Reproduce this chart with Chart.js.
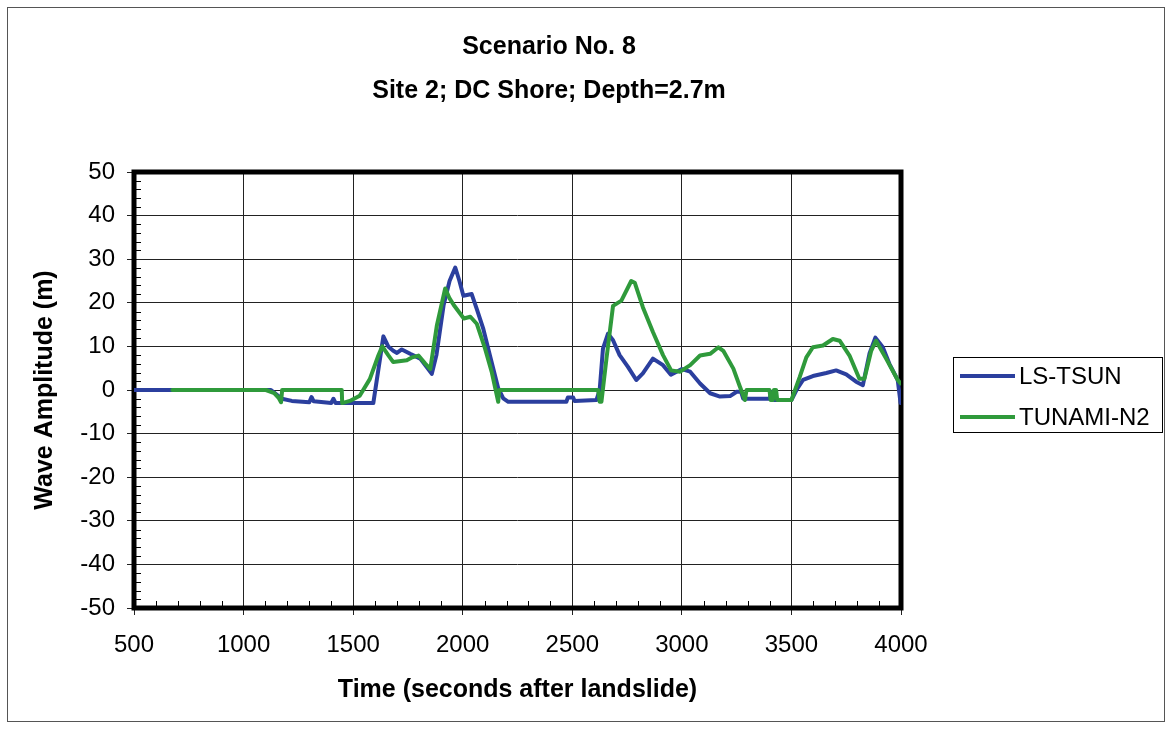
<!DOCTYPE html>
<html>
<head>
<meta charset="utf-8">
<title>Scenario No. 8</title>
<script src="https://cdn.jsdelivr.net/npm/chart.js@4.4.0/dist/chart.umd.min.js"></script>
<style>
  body { margin: 0; background: #fff; }
  #wrap { width: 1166px; height: 734px; }
</style>
</head>
<body>
<div id="wrap"><canvas id="waveChart" width="1166" height="734"></canvas></div>
<script>
const FONT = "'Liberation Sans', Arial, sans-serif";

// time axis ticks (seconds) and amplitude ticks (m)
const timeTicks = [500, 1000, 1500, 2000, 2500, 3000, 3500, 4000];
const ampTicks = [-50, -40, -30, -20, -10, 0, 10, 20, 30, 40, 50];

// LS-TSUN
const lsTime = [500, 1125, 1155, 1175, 1220, 1300, 1310, 1320, 1400, 1410, 1420, 1592,
  1638, 1660, 1683, 1700, 1722, 1760, 1806, 1840, 1859, 1880, 1913, 1940, 1966, 1985,
  2003, 2041, 2064, 2094, 2124, 2162, 2185, 2208, 2473, 2480, 2504, 2510, 2610, 2625,
  2640, 2663, 2686, 2716, 2754, 2792, 2822, 2868, 2914, 2950, 3000, 3038, 3083, 3129,
  3174, 3220, 3250, 3270, 3280, 3400, 3410, 3420, 3500, 3523, 3553, 3598, 3659, 3704,
  3750, 3795, 3826, 3856, 3883, 3917, 3947, 3985, 3998];
const lsAmp = [0, 0, -1.2, -2, -2.5, -2.8, -1.6, -2.6, -3, -2, -3, -3,
  12.3, 10, 9, 8.5, 9.3, 8.3, 7.2, 5, 3.7, 8, 19.5, 25, 28.1, 25,
  21.6, 22, 18.6, 14, 8, 0.4, -1.9, -2.7, -2.7, -1.7, -1.7, -2.5, -2.3, 0,
  9.5, 12.9, 11.4, 8, 5.3, 2.3, 3.8, 7.2, 5.7, 3.5, 4.8, 4.2, 1.5, -0.75,
  -1.5, -1.4, -0.4, -0.4, -2, -2, -0.5, -2.3, -2.3, 0, 2.3, 3.2, 3.9, 4.5,
  3.6, 1.9, 1.1, 8.3, 12, 9.8, 6, 2.3, -3];

// TUNAMI-N2
const tnTime = [675, 1102, 1140, 1160, 1171, 1176, 1448, 1450, 1485, 1530, 1576, 1615,
  1633, 1660, 1683, 1745, 1770, 1798, 1830, 1852, 1882, 1920, 1940, 1959, 2005, 2035,
  2064, 2102, 2132, 2162, 2167, 2618, 2625, 2633, 2656, 2686, 2724, 2769, 2785, 2822,
  2868, 2914, 2951, 2992, 3038, 3083, 3129, 3167, 3189, 3235, 3265, 3288, 3295, 3400,
  3405, 3415, 3420, 3430, 3435, 3500, 3538, 3568, 3598, 3644, 3689, 3720, 3765, 3810,
  3833, 3864, 3886, 3932, 3985, 3998];
const tnAmp = [0, 0, -0.7, -1.8, -2.8, 0, 0, -3, -2.5, -1.3, 2.5, 7.9,
  10, 8, 6.4, 6.8, 7.5, 7.9, 6, 4.8, 14.8, 23.3, 21, 19.5, 16.4, 16.8,
  15.2, 9.5, 4.2, -2.7, 0, 0, -2.7, -2.7, 7.2, 19.3, 20.5, 25, 24.6, 19,
  13.3, 8, 4.5, 4.2, 5.7, 7.9, 8.3, 9.8, 9, 4.9, 0.75, -2.3, 0, 0,
  -2.3, -2.3, 0, 0, -2.3, -2.3, 3, 7.5, 9.8, 10.2, 11.7, 11.3, 7.9, 2.6,
  2.6, 9, 11.3, 7.2, 2.3, 1.5];

const seriesNames = ['LS-TSUN', 'TUNAMI-N2'];
const seriesColors = ['#2b3f9e', '#2f9a3b'];

function pairs(xs, ys) {
  return xs.map((x, i) => ({ x: x, y: ys[i] }));
}

// titles, thick plot frame, inner minor ticks, legend box, outer border
const decorations = {
  id: 'decorations',
  beforeDatasetsDraw(chart) {
    const { ctx, chartArea: a, scales } = chart;
    ctx.save();
    ctx.strokeStyle = '#000';
    ctx.lineWidth = 1;
    ctx.beginPath();
    for (let t = 600; t < 4000; t += 100) {
      if (t % 500 === 0) continue;
      const px = Math.round(scales.x.getPixelForValue(t)) + 0.5;
      ctx.moveTo(px, a.bottom - 2);
      ctx.lineTo(px, a.bottom - 7);
    }
    for (let v = -48; v < 50; v += 2) {
      if (v % 10 === 0) continue;
      const py = Math.round(scales.y.getPixelForValue(v)) + 0.5;
      ctx.moveTo(a.left + 2, py);
      ctx.lineTo(a.left + 7, py);
    }
    ctx.stroke();
    ctx.lineWidth = 5;
    ctx.strokeRect(a.left, a.top, a.right - a.left, a.bottom - a.top);
    ctx.restore();
  },
  afterDraw(chart) {
    const { ctx } = chart;
    ctx.save();
    ctx.strokeStyle = '#555';
    ctx.lineWidth = 1;
    ctx.strokeRect(7.5, 7.5, 1157, 714);

    ctx.fillStyle = '#000';
    ctx.textAlign = 'center';
    ctx.textBaseline = 'middle';
    ctx.font = 'bold 25px ' + FONT;
    ctx.fillText('Scenario No. 8', 549, 47);
    ctx.fillText('Site 2; DC Shore; Depth=2.7m', 549, 91);

    // legend
    ctx.fillStyle = '#fff';
    ctx.fillRect(953, 357, 210, 75);
    ctx.strokeStyle = '#000';
    ctx.strokeRect(953.5, 357.5, 209, 75);
    ctx.font = '24px ' + FONT;
    ctx.textAlign = 'left';
    seriesNames.forEach((name, i) => {
      const y = 376 + i * 41;
      ctx.strokeStyle = seriesColors[i];
      ctx.lineWidth = 4;
      ctx.beginPath();
      ctx.moveTo(960, y);
      ctx.lineTo(1015, y);
      ctx.stroke();
      ctx.fillStyle = '#000';
      ctx.fillText(name, 1019, y + 1);
    });
    ctx.restore();
  }
};

const ctx = document.getElementById('waveChart').getContext('2d');

const waveChart = new Chart(ctx, {
  type: 'line',
  data: {
    datasets: [{
      label: seriesNames[0],
      data: pairs(lsTime, lsAmp),
      borderColor: seriesColors[0],
      borderWidth: 4,
      order: 2
    }, {
      label: seriesNames[1],
      data: pairs(tnTime, tnAmp),
      borderColor: seriesColors[1],
      borderWidth: 4,
      order: 1
    }]
  },
  options: {
    responsive: false,
    animation: false,
    layout: { padding: { left: 0, right: 265, top: 172, bottom: 0 } },
    elements: {
      point: { radius: 0 },
      line: { tension: 0, borderJoinStyle: 'round', borderCapStyle: 'round' }
    },
    plugins: {
      legend: { display: false },
      title: { display: false },
      tooltip: { enabled: false }
    },
    scales: {
      x: {
        type: 'linear',
        min: 500,
        max: 4000,
        afterFit: s => { s.height = 126; },
        afterBuildTicks: s => { s.ticks = timeTicks.map(v => ({ value: v })); },
        ticks: {
          color: '#000',
          padding: 16,
          maxRotation: 0,
          font: { family: FONT, size: 24 },
          callback: v => String(v)
        },
        grid: { color: '#222', lineWidth: 1, tickLength: 7 },
        border: { display: false },
        title: {
          display: true,
          text: 'Time (seconds after landslide)',
          color: '#000',
          font: { family: FONT, size: 25, weight: 'bold' },
          padding: { top: 0, bottom: 29 }
        }
      },
      y: {
        min: -50,
        max: 50,
        afterFit: s => { s.width = 134; },
        afterBuildTicks: s => { s.ticks = ampTicks.map(v => ({ value: v })); },
        ticks: {
          color: '#000',
          padding: 12,
          font: { family: FONT, size: 24 },
          callback: v => String(v)
        },
        grid: { color: '#222', lineWidth: 1, tickLength: 7 },
        border: { display: false },
        title: {
          display: true,
          text: 'Wave Amplitude (m)',
          color: '#000',
          font: { family: FONT, size: 25, weight: 'bold' },
          padding: { top: 30, bottom: 0 }
        }
      }
    }
  },
  plugins: [decorations]
});
</script>
</body>
</html>
